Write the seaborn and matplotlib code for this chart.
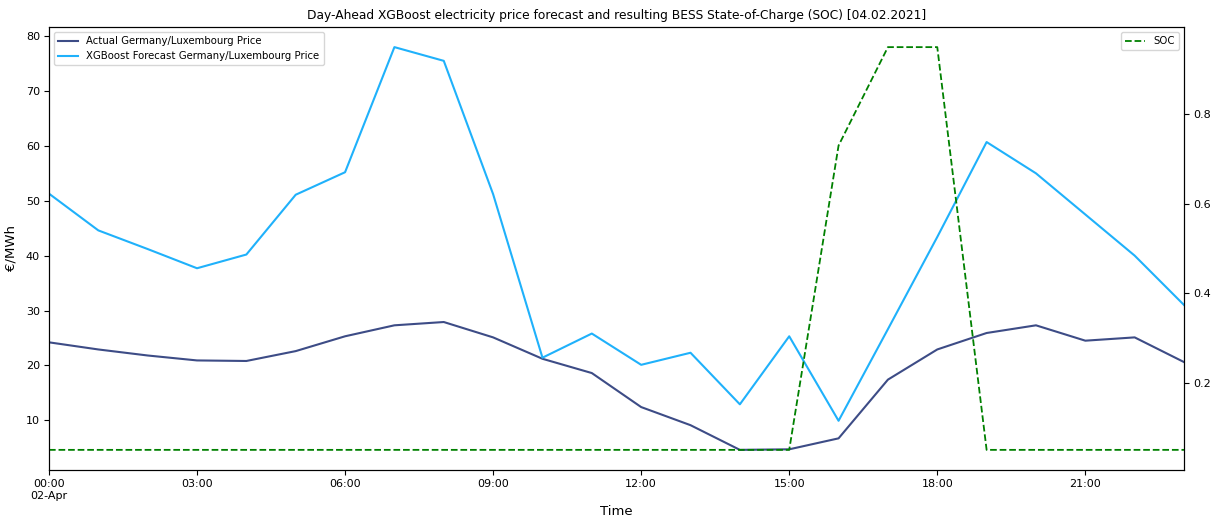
import numpy as np
import pandas as pd
import matplotlib
matplotlib.use("Agg")
import matplotlib.pyplot as plt
import matplotlib.dates as mdates
import seaborn as sns

hours = pd.date_range("2021-04-02 00:00", periods=24, freq="h")
actual_price = [24.2, 22.9, 21.8, 20.9, 20.8, 22.6, 25.3, 27.3, 27.9, 25.1, 21.2, 18.6,
                12.4, 9.1, 4.6, 4.7, 6.7, 17.4, 22.9, 25.9, 27.3, 24.5, 25.1, 20.6]
forecast_price = [51.3, 44.6, 41.2, 37.7, 40.2, 51.1, 55.2, 78.0, 75.5, 51.2, 21.4, 25.8,
                  20.1, 22.3, 12.9, 25.3, 9.9, 26.6, 43.4, 60.7, 55.0, 47.5, 40.0, 31.0]
soc = [0.05] * 16 + [0.73, 0.95, 0.95] + [0.05] * 5

df = pd.DataFrame({"Time": hours, "actual": actual_price, "forecast": forecast_price, "soc": soc})

fig = plt.figure(figsize=(12.15, 5.19), dpi=100)
ax = fig.add_axes([0.0403, 0.0944, 0.9342, 0.8536])

sns.lineplot(data=df, x="Time", y="actual", ax=ax, color="#3d4c86", linewidth=1.5,
             label="Actual Germany/Luxembourg Price")
sns.lineplot(data=df, x="Time", y="forecast", ax=ax, color="#1fb1fb", linewidth=1.5,
             label="XGBoost Forecast Germany/Luxembourg Price")
ax.set_xlim(hours[0], hours[-1])
ax.set_ylabel("€/MWh", fontsize=9.5, labelpad=6)
ax.set_xlabel("Time", fontsize=9.5, labelpad=3)
ax.set_title("Day-Ahead XGBoost electricity price forecast and resulting BESS State-of-Charge (SOC) [04.02.2021]",
             fontsize=8.8)
ax.tick_params(labelsize=8, pad=3)
ax.legend(loc="upper left", fontsize=7.3, handlelength=2.0)

ax2 = ax.twinx()
sns.lineplot(data=df, x="Time", y="soc", ax=ax2, color="green", linestyle="--", linewidth=1.3, label="SOC")
ax2.set_ylabel("")
ax2.set_xlabel("")
ax2.set_yticks([0.2, 0.4, 0.6, 0.8])
ax2.tick_params(labelsize=8, pad=3)
ax2.legend(loc="upper right", fontsize=7.3, handlelength=2.0)
ax2.set_xlim(hours[0], hours[-1])

ax.xaxis.set_major_locator(mdates.HourLocator(byhour=range(0, 24, 3)))
def fmt(x, pos):
    d = mdates.num2date(x)
    s = d.strftime("%H:%M")
    if d.hour == 0:
        s += "\n" + d.strftime("%d-%b")
    return s
ax.xaxis.set_major_formatter(plt.FuncFormatter(fmt))

fig.savefig("out.png", dpi=100)
